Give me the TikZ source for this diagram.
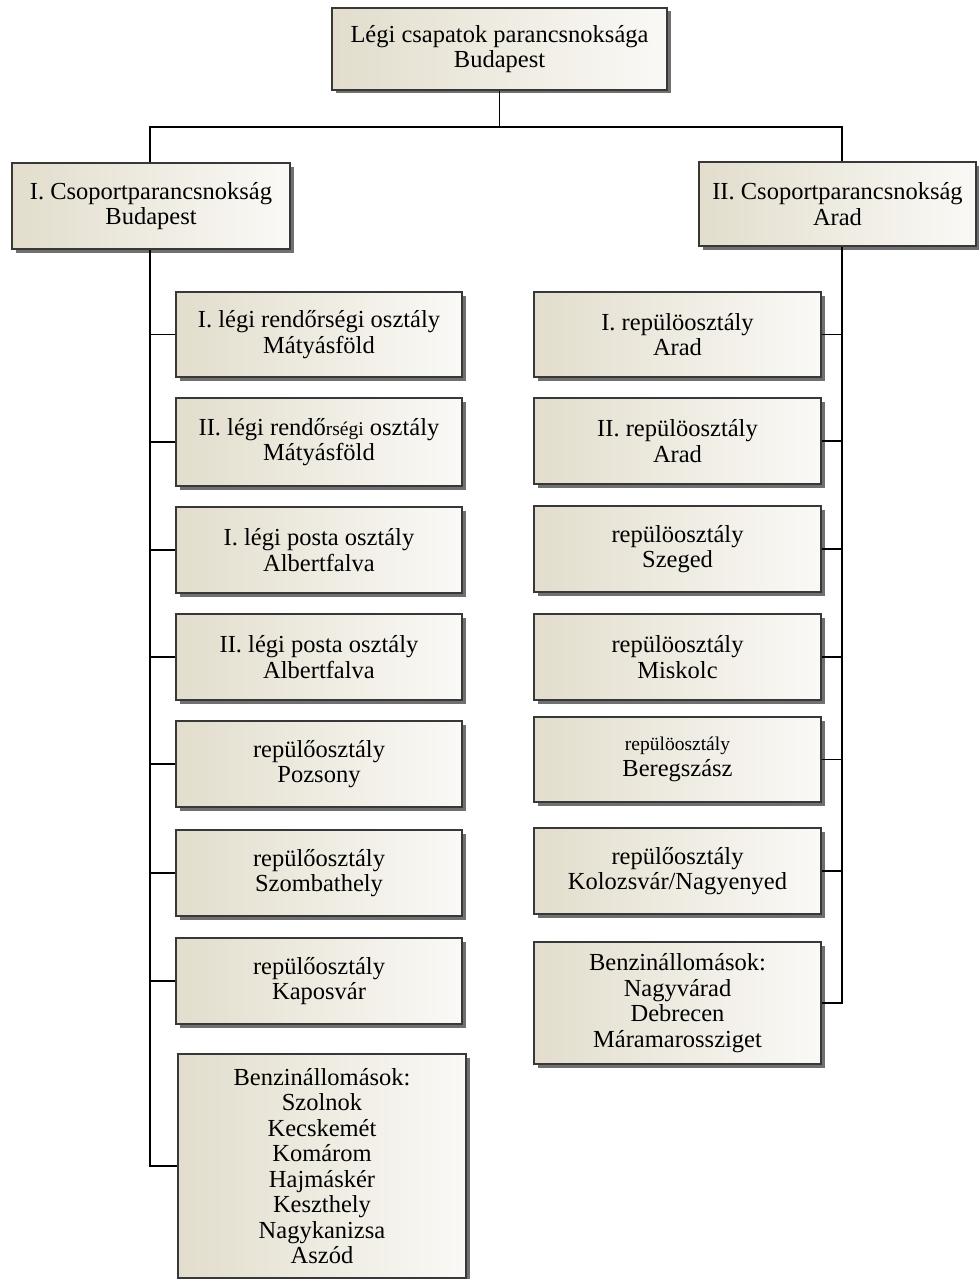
\documentclass[tikz,border=0pt]{standalone}
\usepackage{fontspec}
\setmainfont{Liberation Serif}
\usetikzlibrary{shadows}
\definecolor{boxdark}{HTML}{E2DDCC}
\definecolor{boxlight}{HTML}{FAF9F6}
\definecolor{boxedge}{HTML}{383838}
\begin{document}
\begin{tikzpicture}[x=1pt,y=-1pt,
  unitbox/.style={draw=boxedge, line width=1.4pt, left color=boxdark, right color=boxlight,
    drop shadow={shadow xshift=3.5pt, shadow yshift=-3.5pt, fill=black!70, opacity=.8},
    align=center, inner sep=0pt, font=\fontsize{24.5}{25.5}\selectfont},
  conn/.style={draw=black, line width=1.5pt}]
\path[use as bounding box] (0,0) rectangle (979,1279);

% headquarters and the two group commands
\node[unitbox, minimum width=335, minimum height=82] (hq) at (499.5,49)
  {Légi csapatok parancsnoksága\\Budapest};
\node[unitbox, minimum width=278, minimum height=86] (lg) at (151,206)
  {I. Csoportparancsnokság\\Budapest};
\node[unitbox, minimum width=277, minimum height=84] (rg) at (837.5,204)
  {II. Csoportparancsnokság\\Arad};

% trunk points of the tree
\coordinate (bl) at (150,127);
\coordinate (br) at (842,127);

% units of the first group
\node[unitbox, minimum width=286, minimum height=85] (l1) at (319,334.5)
  {I. légi rendőrségi osztály\\Mátyásföld};
\node[unitbox, minimum width=286, minimum height=88] (l2) at (319,442)
  {II. légi rendő{\fontsize{19.5}{20}\selectfont rségi} osztály\\Mátyásföld};
\node[unitbox, minimum width=286, minimum height=86] (l3) at (319,550)
  {I. légi posta osztály\\Albertfalva};
\node[unitbox, minimum width=286, minimum height=86] (l4) at (319,657)
  {II. légi posta osztály\\Albertfalva};
\node[unitbox, minimum width=286, minimum height=86] (l5) at (319,764)
  {repülőosztály\\Pozsony};
\node[unitbox, minimum width=286, minimum height=86] (l6) at (319,873)
  {repülőosztály\\Szombathely};
\node[unitbox, minimum width=286, minimum height=86] (l7) at (319,981)
  {repülőosztály\\Kaposvár};
\node[unitbox, minimum width=288, minimum height=224] (l8) at (322,1166)
  {Benzinállomások:\\Szolnok\\Kecskemét\\Komárom\\Hajmáskér\\Keszthely\\Nagykanizsa\\Aszód};

% units of the second group
\node[unitbox, minimum width=287, minimum height=85] (r1) at (677.5,334.5)
  {I. repülöosztály\\Arad};
\node[unitbox, minimum width=287, minimum height=86] (r2) at (677.5,441)
  {II. repülöosztály\\Arad};
\node[unitbox, minimum width=287, minimum height=86] (r3) at (677.5,549)
  {repülöosztály\\Szeged};
\node[unitbox, minimum width=287, minimum height=86] (r4) at (677.5,657)
  {repülöosztály\\Miskolc};
\node[unitbox, minimum width=287, minimum height=85] (r5) at (677.5,759.5)
  {{\fontsize{19.5}{21}\selectfont repülöosztály}\\Beregszász};
\node[unitbox, minimum width=287, minimum height=86] (r6) at (677.5,871)
  {repülőosztály\\Kolozsvár/Nagyenyed};
\node[unitbox, minimum width=287, minimum height=122] (r7) at (677.5,1003)
  {Benzinállomások:\\Nagyvárad\\Debrecen\\Máramarossziget};

% connectors
\draw[conn] (hq.south) -- (hq.south |- bl);
\draw[conn] (lg.north -| bl) -- (bl) -- (br) -- (rg.north -| br);
\draw[conn] (lg.south -| bl) -- (l8.west -| bl) -- (l8.west);
\foreach \n in {l1,l2,l3,l4,l5,l6,l7}
  \draw[conn] (\n.west -| bl) -- (\n.west);
\draw[conn] (rg.south -| br) -- (r7.east -| br) -- (r7.east);
\foreach \n in {r1,r2,r3,r4,r5,r6}
  \draw[conn] (\n.east) -- (\n.east -| br);
\end{tikzpicture}
\end{document}
